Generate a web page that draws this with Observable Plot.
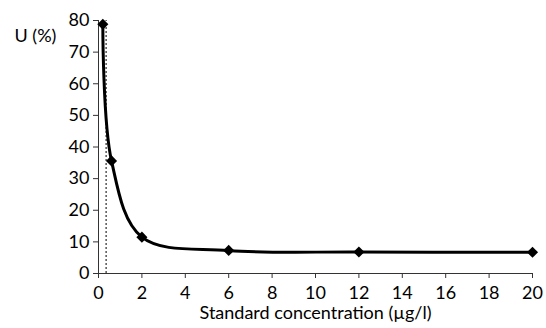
<!DOCTYPE html>
<html>
<head>
<meta charset="utf-8">
<script src="https://cdn.jsdelivr.net/npm/d3@7"></script>
<script src="https://cdn.jsdelivr.net/npm/@observablehq/plot@0.6"></script>
<style>
  html, body { margin: 0; padding: 0; background: #fff; }
</style>
</head>
<body>
<div id="chart"></div>
<script>
const concentration = [0.2, 0.6, 2, 6, 12, 20];
const uncertainty = [78.8, 35.6, 11.5, 7.3, 6.8, 6.7];
const cutoff = [0.35];
const xTicks = [0, 2, 4, 6, 8, 10, 12, 14, 16, 18, 20];
const yTicks = [0, 10, 20, 30, 40, 50, 60, 70, 80];
const xLabel = "Standard concentration (µg/l)";
const yLabel = "U (%)";

const data = concentration.map((c, i) => ({x: c, y: uncertainty[i]}));

const chart = Plot.plot({
  width: 546,
  height: 328,
  marginLeft: 98,
  marginRight: 14,
  marginTop: 20,
  marginBottom: 55,
  style: {fontFamily: "Lato, sans-serif", fontSize: "18px", color: "#000", background: "#fff"},
  x: {domain: [0, 20]},
  y: {domain: [0, 80]},
  marks: [
    Plot.axisX({ticks: xTicks, tickSize: 5, tickPadding: 8, label: null, stroke: "#333"}),
    Plot.axisY({ticks: yTicks, tickSize: 5, tickPadding: 4, label: null, stroke: "#333"}),
    Plot.ruleX([0], {stroke: "#333"}),
    Plot.ruleY([0], {stroke: "#333"}),
    Plot.ruleX(cutoff, {y1: 0, y2: 80, stroke: "#000", strokeDasharray: "2,2", strokeWidth: 1}),
    Plot.line(data, {x: "x", y: "y", curve: "catmull-rom", stroke: "#000", strokeWidth: 3}),
    Plot.dot(data, {x: "x", y: "y", symbol: "diamond2", fill: "#000", r: 5}),
    Plot.text([xLabel], {frameAnchor: "bottom", dy: 40, lineAnchor: "middle", text: d => d, fontSize: 18}),
    Plot.text([yLabel], {frameAnchor: "top-left", dx: -84, dy: 16, lineAnchor: "middle", text: d => d, fontSize: 18, textAnchor: "start"})
  ]
});
document.getElementById("chart").appendChild(chart);
</script>
</body>
</html>
